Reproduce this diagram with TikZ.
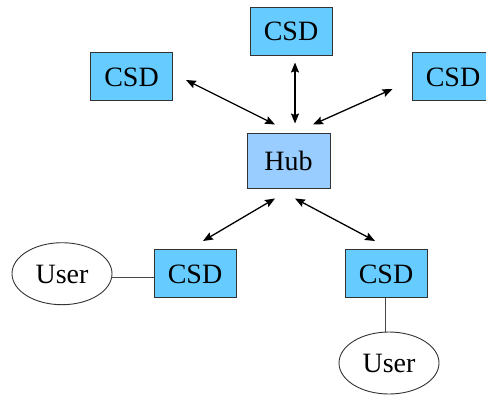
\documentclass[tikz,border=0pt]{standalone}
\usepackage{fontspec}
\setmainfont{Liberation Serif}
\usetikzlibrary{calc,arrows.meta,shapes.geometric}
\definecolor{csdfill}{HTML}{66CCFF}
\definecolor{hubfill}{HTML}{99CCFF}
\definecolor{edge}{HTML}{333333}
\tikzset{
  label font/.style={font=\fontsize{28}{30}\selectfont, text height=19pt, text depth=0pt},
  csdbox/.style={draw=edge, line width=1pt, fill=csdfill, minimum width=82pt, minimum height=48pt, inner sep=0pt, label font},
  hubbox/.style={draw=edge, line width=1pt, fill=hubfill, minimum width=83pt, minimum height=55pt, inner sep=0pt, label font},
  userell/.style={ellipse, draw=edge, line width=0.9pt, fill=white, minimum width=100pt, minimum height=62pt, inner sep=0pt, label font},
  link/.style={draw=black, line width=1.3pt, {Stealth[length=10pt,width=8pt,inset=1.5pt]}-{Stealth[length=10pt,width=8pt,inset=1.5pt]}},
  wire/.style={draw=edge!90, line width=0.9pt}
}
\begin{document}
\begin{tikzpicture}[x=1pt,y=-1pt]
  \useasboundingbox (0,0) rectangle (486,394);
  \clip (0,0) rectangle (486,394);
  % hub and the CSDs around it
  \node[hubbox] (hub) at (288.5,160.5) {Hub};
  \node[csdbox] (csdT) at (291,31) {CSD};
  \node[csdbox] (csdL) at (131.5,76.5) {CSD};
  \node[csdbox] (csdR) at (453,76.5) {CSD};
  \node[csdbox] (csdBL) at (195,273.5) {CSD};
  \node[csdbox] (csdBR) at (386,273.5) {CSD};
  % users
  \node[userell] (userL) at (62,273.7) {User};
  \node[userell] (userB) at (389,363) {User};
  % hub links
  \draw[link] ($(csdT.south)+(4,7)$) -- ($(hub.north)+(6.5,-9)$);
  \draw[link] ($(csdL.east)+(13,3.5)$) -- ($(hub.north)+(-13.5,-8)$);
  \draw[link] ($(csdR.west)+(-19,12.5)$) -- ($(hub.north)+(24.5,-8)$);
  \draw[link] ($(hub.south)+(-13.5,10)$) -- ($(csdBL.north)+(8,-8)$);
  \draw[link] ($(hub.south)+(6.5,10)$) -- ($(csdBR.north)+(-11,-8)$);
  % user attachments
  \draw[wire] ($(userL.east)+(0,4)$) -- ($(csdBL.west)+(0,4.2)$);
  \draw[wire] ($(csdBR.south)+(-1,0)$) -- ($(userB.north)+(-4,0)$);
\end{tikzpicture}
\end{document}
